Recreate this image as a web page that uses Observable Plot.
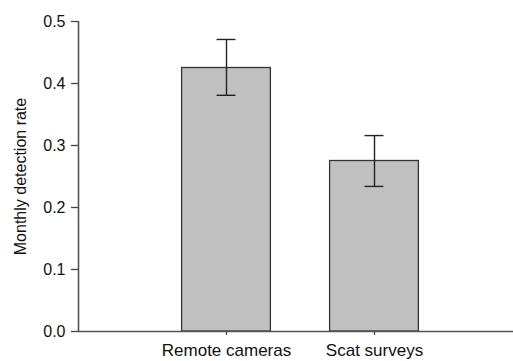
<!DOCTYPE html>
<html><head><meta charset="utf-8">
<script src="https://cdn.jsdelivr.net/npm/d3@7"></script>
<script src="https://cdn.jsdelivr.net/npm/@observablehq/plot@0.6"></script>
<style>body{margin:0;background:#fff} svg{display:block}</style>
</head><body><div id="chart"></div>
<script>
const categories = ["Remote cameras", "Scat surveys"];
const rates = [0.425, 0.275];
const lower = [0.381, 0.234];
const upper = [0.471, 0.316];
const yTicks = [0, 0.1, 0.2, 0.3, 0.4, 0.5];

const data = categories.map((c, i) => ({pos: i + 1, category: c, rate: rates[i], lo: lower[i], hi: upper[i]}));
const halfBar = 0.3, halfCap = 0.064;

const chart = Plot.plot({
  width: 513, height: 361,
  marginLeft: 78, marginRight: 0, marginTop: 21, marginBottom: 30,
  style: {fontFamily: "'Liberation Sans', Arial, sans-serif", fontSize: "16px", color: "#111", background: "#fff"},
  x: {type: "linear", domain: [0, 3], range: [78, 522]},
  y: {domain: [0, 0.5], range: [331, 21]},
  marks: [
    Plot.rectY(data, {x1: d => d.pos - halfBar, x2: d => d.pos + halfBar, y1: 0, y2: "rate", fill: "#c0c0c0", stroke: "#333", strokeWidth: 1.3}),
    Plot.ruleX(data, {x: "pos", y1: "lo", y2: "hi", stroke: "#222", strokeWidth: 1.4}),
    Plot.ruleY(data, {x1: d => d.pos - halfCap, x2: d => d.pos + halfCap, y: "hi", stroke: "#222", strokeWidth: 1.4}),
    Plot.ruleY(data, {x1: d => d.pos - halfCap, x2: d => d.pos + halfCap, y: "lo", stroke: "#222", strokeWidth: 1.4}),
    Plot.axisY({ticks: yTicks, tickFormat: ".1f", tickSize: 7, tickPadding: 6, stroke: "#444", strokeWidth: 1.3,
      label: "Monthly detection rate", labelAnchor: "center", labelOffset: 64, labelArrow: false}),
    Plot.axisX({ticks: [1, 2], tickFormat: d => categories[d - 1], tickSize: 4, tickPadding: 8, fontSize: 17, stroke: "#444", strokeWidth: 1.3, label: null}),
    Plot.ruleY([0], {stroke: "#555", strokeWidth: 1.6}),
    Plot.ruleX([0], {y1: 0, y2: 0.5, stroke: "#555", strokeWidth: 1.6})
  ]
});
document.getElementById("chart").appendChild(chart);
</script>
</body></html>
